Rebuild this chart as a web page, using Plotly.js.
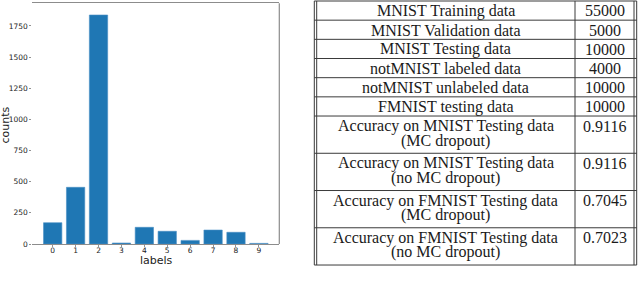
<!DOCTYPE html>
<html>
<head>
<meta charset="utf-8">
<script src="https://cdn.plot.ly/plotly-3.0.1.min.js"></script>
<style>
html,body{margin:0;padding:0;background:#fff;}
#chart{width:640px;height:284px;}
</style>
</head>
<body>
<div id="chart"></div>
<script>
// ---- data ----
const labels = ['0','1','2','3','4','5','6','7','8','9'];
const counts = [171, 455, 1838, 8, 134, 102, 29, 112, 94, 5];
const yTicks = [0, 250, 500, 750, 1000, 1250, 1500, 1750];

const tableNames = [
  'MNIST Training data',
  'MNIST Validation data',
  'MNIST Testing data',
  'notMNIST labeled data',
  'notMNIST unlabeled data',
  'FMNIST testing data',
  'Accuracy on MNIST Testing data',
  'Accuracy on MNIST Testing data',
  'Accuracy on FMNIST Testing data',
  'Accuracy on FMNIST Testing data'
];
const tableNotes = ['', '', '', '', '', '', '(MC dropout)', '(no MC dropout)', '(MC dropout)', '(no MC dropout)'];
const tableValues = ['55000', '5000', '10000', '4000', '10000', '10000', '0.9116', '0.9116', '0.7045', '0.7023'];
const caption = 'Table 1: Summary of the data used and the results';

// ---- helpers (pixel -> paper) ----
const W = 640, H = 284;
const px = x => x / W;
const py = y => 1 - y / H;

const shapes = [];
const annotations = [];
const lineCol = '#3a3a3a';
function hline(x0, x1, y) {
  shapes.push({type:'line', xref:'paper', yref:'paper', x0:px(x0), x1:px(x1), y0:py(y), y1:py(y), line:{color:lineCol, width:1}});
}
function vline(x, y0, y1) {
  shapes.push({type:'line', xref:'paper', yref:'paper', x0:px(x), x1:px(x), y0:py(y0), y1:py(y1), line:{color:lineCol, width:1}});
}

// table geometry
const tL1 = 314.3, tL2 = 316.7, tR1 = 634, tR2 = 636.7, tDiv = 575;
const tTop = 1, hSingle = 19.17, hDouble = 37.25;
const serif = {family:'"Liberation Serif", "DejaVu Serif", serif', size:16, color:'#1a1a1a'};
let y = tTop;
hline(tL1, tR2, y);
for (let i = 0; i < tableNames.length; i++) {
  const h = tableNotes[i] ? hDouble : hSingle;
  const c1 = (tL2 + tDiv) / 2, c2 = (tDiv + tR1) / 2;
  annotations.push({xref:'paper', yref:'paper', x:px(c1), y:py(y + 10), text:tableNames[i], showarrow:false, xanchor:'center', yanchor:'middle', font:serif});
  annotations.push({xref:'paper', yref:'paper', x:px(c2), y:py(y + 10), text:tableValues[i], showarrow:false, xanchor:'center', yanchor:'middle', font:serif});
  if (tableNotes[i]) {
    annotations.push({xref:'paper', yref:'paper', x:px(c1), y:py(y + 24.5), text:tableNotes[i], showarrow:false, xanchor:'center', yanchor:'middle', font:serif});
  }
  y += h;
  hline(tL1, tR2, y);
}
const tBottom = y;
[tL1, tL2, tDiv, tR1, tR2].forEach(x => vline(x, tTop, tBottom));

// caption (cut off at bottom of picture)
annotations.push({xref:'paper', yref:'paper', x:px(340), y:py(280.5), text:caption, showarrow:false, xanchor:'left', yanchor:'top', font:serif});

// bar chart frame
const axL = 32.3, axR = 279.3, axT = 3.3, axB = 244;
const spine = '#8c8c8c';
shapes.push({type:'line', xref:'paper', yref:'paper', x0:px(axR), x1:px(axR), y0:py(axT), y1:py(axB), line:{color:spine, width:1.2}});

const sans = '"DejaVu Sans", sans-serif';
annotations.push({xref:'paper', yref:'paper', x:px(5.5), y:py(125), text:'counts', textangle:-90, showarrow:false, xanchor:'center', yanchor:'middle', font:{family:sans, size:11, color:'#222'}});
annotations.push({xref:'paper', yref:'paper', x:px(156), y:py(260.5), text:'labels', showarrow:false, xanchor:'center', yanchor:'middle', font:{family:sans, size:11, color:'#222'}});

const data = [{
  type:'bar', x:labels, y:counts,
  marker:{color:'#1f77b4', line:{color:'#4a8fc4', width:0.6}},
  hoverinfo:'skip'
}];

const layout = {
  width:W, height:H,
  margin:{l:0, r:0, t:0, b:0, pad:0},
  paper_bgcolor:'#fff', plot_bgcolor:'#fff',
  showlegend:false,
  bargap:0.2,
  xaxis:{
    domain:[px(axL), px(axR)],
    type:'category', range:[-0.89, 9.89],
    showline:true, mirror:true, linecolor:spine, linewidth:1.2,
    ticks:'outside', ticklen:2, tickcolor:'#777', tickwidth:0.8,
    ticklabelstandoff:-3,
    tickfont:{family:sans, size:7.5, color:'#222'},
    showgrid:false, zeroline:false, fixedrange:true
  },
  yaxis:{
    domain:[py(axB), py(axT)],
    range:[0, 1932],
    tickvals:yTicks, ticktext:yTicks.map(String),
    showline:false,
    ticks:'outside', ticklen:2, tickcolor:'#777', tickwidth:0.8,
    tickfont:{family:sans, size:7.5, color:'#222'},
    showgrid:false, zeroline:false, fixedrange:true
  },
  shapes:shapes,
  annotations:annotations
};

Plotly.newPlot('chart', data, layout, {staticPlot:true, displayModeBar:false});
</script>
</body>
</html>
